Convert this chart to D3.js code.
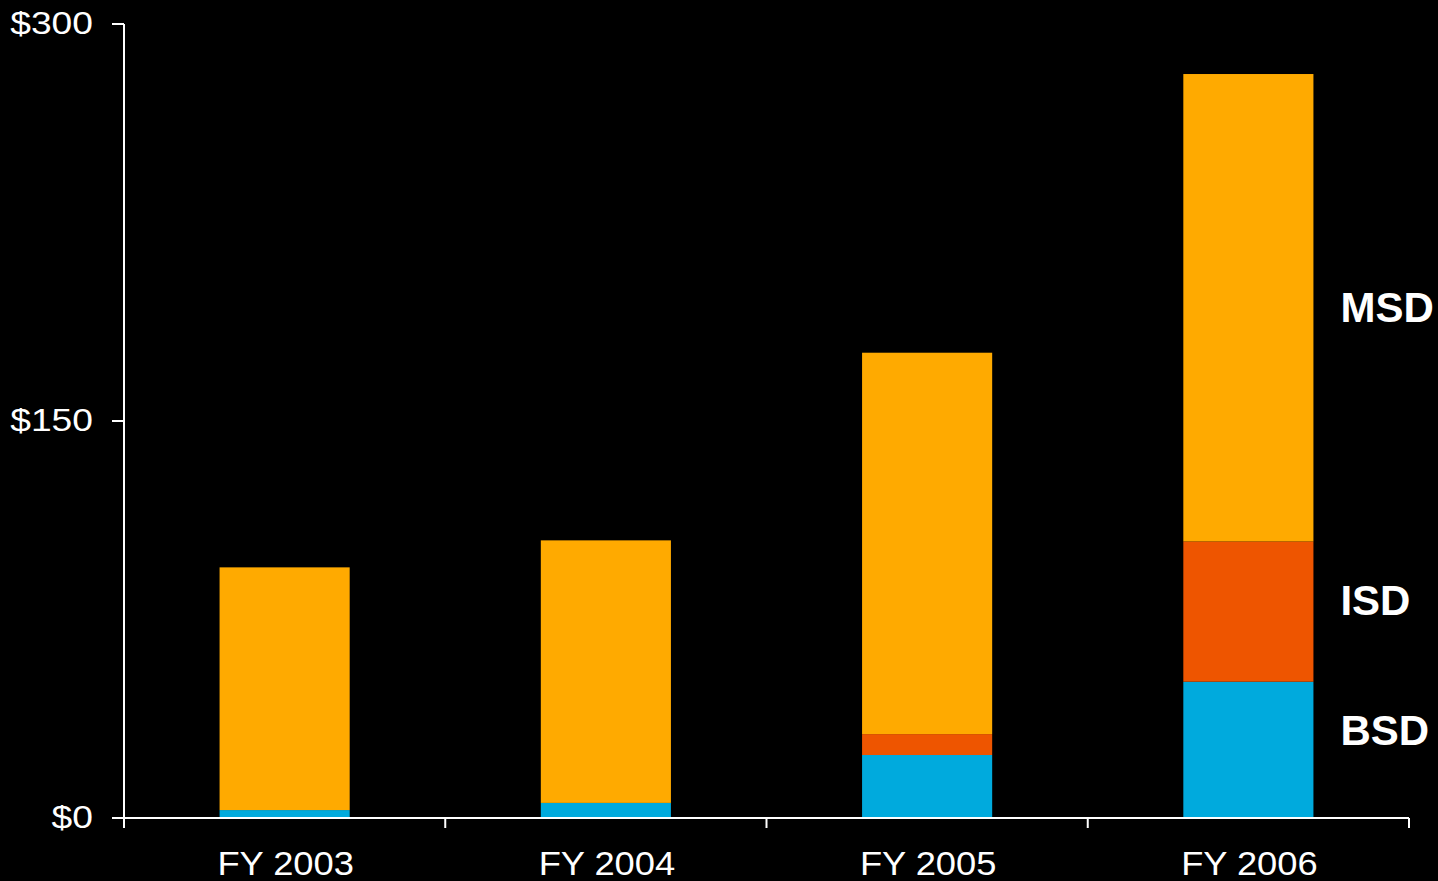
<!DOCTYPE html>
<html>
<head>
<meta charset="utf-8">
<script src="https://cdn.jsdelivr.net/npm/d3@7"></script>
<style>
html,body{margin:0;padding:0;background:#000;}
svg{display:block;}
text{font-family:"Liberation Sans", Arial, sans-serif;fill:#fff;}
</style>
</head>
<body>
<svg id="chart" width="1438" height="881"></svg>
<script>
const categories = ["FY 2003", "FY 2004", "FY 2005", "FY 2006"];
const BSD = [3.0, 5.7, 23.8, 51.5];
const ISD = [0, 0, 7.9, 53.0];
const MSD = [91.7, 99.2, 144.1, 176.6];
const seriesNames = ["BSD", "ISD", "MSD"];
const seriesColors = ["#00AADD", "#EE5500", "#FFAA00"];
const yTicks = [0, 150, 300];
const yTickLabels = ["$0", "$150", "$300"];

const svg = d3.select("#chart");
const margin = {left:124, right:29, top:24, bottom:63};
const W = 1438, H = 881;

const x = d3.scaleBand().domain(categories).range([margin.left, W - margin.right]).padding(0);
const y = d3.scaleLinear().domain([0, 300]).range([H - margin.bottom, margin.top]);

const rows = categories.map((c, i) => ({cat:c, BSD:BSD[i], ISD:ISD[i], MSD:MSD[i]}));
const stacked = d3.stack().keys(seriesNames)(rows);
const color = d3.scaleOrdinal().domain(seriesNames).range(seriesColors);

const barW = x.bandwidth() * 0.405;

svg.append("g").selectAll("g").data(stacked).join("g")
  .attr("fill", d => color(d.key))
  .selectAll("rect").data(d => d).join("rect")
  .attr("x", d => x(d.data.cat) + (x.bandwidth() - barW) / 2)
  .attr("width", barW)
  .attr("y", d => y(d[1]))
  .attr("height", d => y(d[0]) - y(d[1]));

// X axis
const xAxis = svg.append("g").attr("transform", `translate(0,${y(0)})`);
xAxis.append("line").attr("x1", margin.left).attr("x2", W - margin.right)
  .attr("stroke", "#fff").attr("stroke-width", 2);
const xTickPos = categories.map(c => x(c)).concat([x(categories[categories.length-1]) + x.bandwidth()]);
xAxis.selectAll("line.t").data(xTickPos).join("line").attr("class","t")
  .attr("x1", d => d).attr("x2", d => d).attr("y1", 0).attr("y2", 10)
  .attr("stroke", "#fff").attr("stroke-width", 2);
xAxis.selectAll("text").data(categories).join("text")
  .attr("transform", d => `translate(${x(d) + x.bandwidth()/2 + 1},57) scale(1.1,1)`)
  .attr("text-anchor", "middle")
  .attr("font-size", 33)
  .text(d => d);

// Y axis
const yAxis = svg.append("g").attr("transform", `translate(${margin.left},0)`);
yAxis.append("line").attr("y1", y(0)).attr("y2", y(300))
  .attr("stroke", "#fff").attr("stroke-width", 2);
yAxis.selectAll("line.t").data(yTicks).join("line").attr("class","t")
  .attr("x1", -12).attr("x2", 0).attr("y1", d => y(d)).attr("y2", d => y(d))
  .attr("stroke", "#fff").attr("stroke-width", 2);
yAxis.selectAll("text").data(yTicks).join("text")
  .attr("transform", d => `translate(-31,${y(d) + 10}) scale(1.2,1)`)
  .attr("text-anchor", "end")
  .attr("font-size", 31)
  .text((d, i) => yTickLabels[i]);

// Series labels beside last bar
const last = rows[rows.length - 1];
const labelX = x(last.cat) + (x.bandwidth() + barW) / 2 + 27;
svg.append("g").selectAll("text").data(stacked).join("text")
  .attr("x", labelX)
  .attr("y", (s) => {
    const d = s[s.length - 1];
    if (s.key === "MSD") return y(200) + 33;
    if (s.key === "ISD") return y((d[0] + d[1]) / 2) + 3;
    return y((d[0] + d[1]) / 2) - 5;
  })
  .attr("font-size", 42)
  .attr("font-weight", "bold")
  .text(s => s.key);
</script>
</body>
</html>
